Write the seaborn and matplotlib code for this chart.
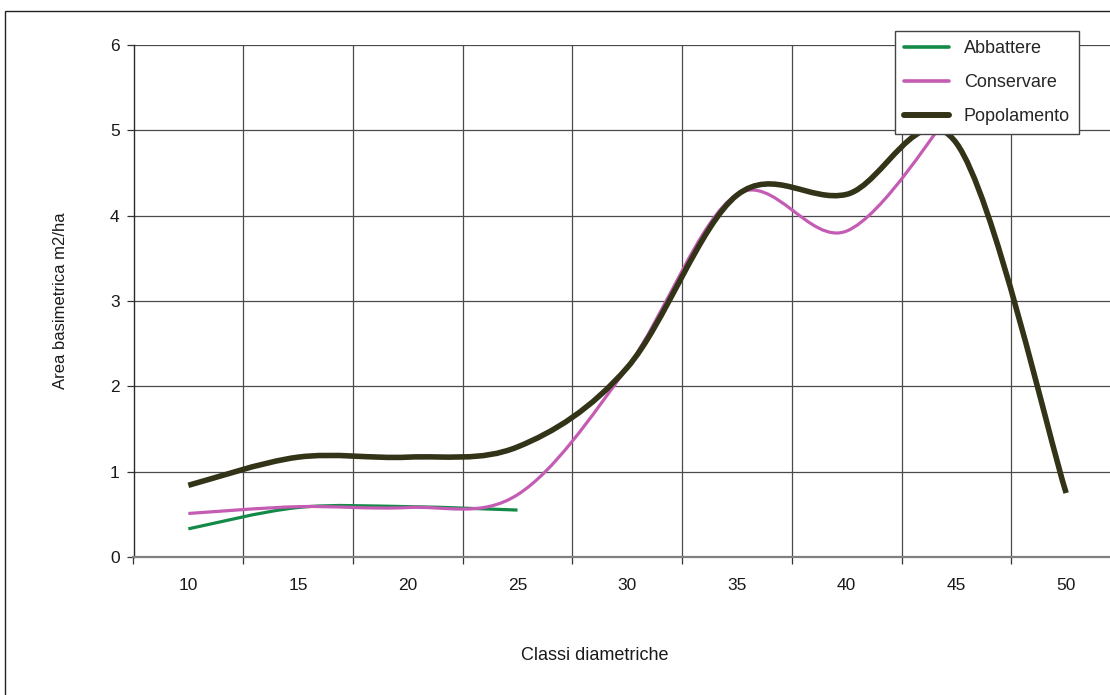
import numpy as np
import pandas as pd
import seaborn as sns
import matplotlib.pyplot as plt
from matplotlib.path import Path
from matplotlib.patches import PathPatch, Rectangle
from matplotlib.lines import Line2D

# dati (area basimetrica per classe diametrica)
classi = [10, 15, 20, 25, 30, 35, 40, 45, 50]
abbattere = [0.33, 0.58, 0.59, 0.55, np.nan, np.nan, np.nan, np.nan, np.nan]
conservare = [0.51, 0.59, 0.58, 0.73, 2.22, 4.25, 3.82, 5.3, np.nan]
popolamento = [0.84, 1.17, 1.17, 1.29, 2.22, 4.24, 4.25, 4.85, 0.75]
y_ticks = [0, 1, 2, 3, 4, 5, 6]

serie = ["Abbattere", "Conservare", "Popolamento"]
colori = ["#138a48", "#c45cb4", "#333318"]
spessori = [2.3, 2.3, 4.0]

df = pd.DataFrame({"classe": classi, "Abbattere": abbattere,
                   "Conservare": conservare, "Popolamento": popolamento})


def smooth_path(xy):
    # curva liscia tipo Excel (Catmull-Rom -> Bezier), passa per i punti
    xy = xy[~np.isnan(xy).any(axis=1)]
    n = len(xy)
    verts = [xy[0]]
    codes = [Path.MOVETO]
    for i in range(n - 1):
        p0 = xy[max(i - 1, 0)]
        p1 = xy[i]
        p2 = xy[i + 1]
        p3 = xy[min(i + 2, n - 1)]
        verts += [p1 + (p2 - p0) / 6, p2 - (p3 - p1) / 6, p2]
        codes += [Path.CURVE4] * 3
    return Path(verts, codes)


sns.set_theme(style="white")
plt.rcParams["font.family"] = ["Liberation Sans", "DejaVu Sans"]

fig = plt.figure(figsize=(11.1, 6.95), dpi=100)
ax = fig.add_axes([133.5 / 1110, 138 / 695, 987.5 / 1110, 512 / 695])

for nome, col, lw in zip(serie, colori, spessori):
    sns.lineplot(data=df, x="classe", y=nome, color=col, linewidth=lw,
                 ax=ax, legend=False)

ax.set_xlim(7.5, 52.5)
ax.set_ylim(0, 6)

handles = [Line2D([], [], color=c, lw=w + 0.3) for c, w in zip(colori, spessori)]
ax.legend(handles, serie, loc="upper right",
          bbox_to_anchor=(1079 / 1110, 1 - 31 / 695), bbox_transform=fig.transFigure,
          frameon=True, fancybox=False, edgecolor="#444444", framealpha=1,
          fontsize=13, handlelength=2.5, handletextpad=0.8,
          labelspacing=0.95, borderaxespad=0, borderpad=0.5)
ax.get_legend().get_frame().set_linewidth(1.0)
ax.get_legend().set_zorder(10)

# sostituisce le spezzate con curve lisce
for line in list(ax.lines):
    patch = PathPatch(smooth_path(line.get_xydata()), fill=False,
                      edgecolor=line.get_color(), lw=line.get_linewidth(),
                      capstyle="butt", joinstyle="round", zorder=2)
    ax.add_patch(patch)
    line.set_visible(False)

ax.set_xticks(classi)
ax.set_xticklabels([str(c) for c in classi])
ax.set_xticks(np.arange(7.5, 53, 5), minor=True)
ax.set_yticks(y_ticks)
ax.tick_params(axis="x", which="major", length=0, pad=15, labelsize=12.5,
               labelcolor="#1a1a1a")
ax.tick_params(axis="x", which="minor", length=5, width=0.9, color="#333333",
               bottom=True, direction="out")
ax.tick_params(axis="y", which="major", length=5, width=0.9, color="#333333",
               left=True, direction="out", pad=5, labelsize=12.5,
               labelcolor="#1a1a1a")

ax.set_axisbelow(True)
ax.grid(False)
ax.grid(True, which="minor", axis="x", color="#4a4a4a", lw=0.9)
ax.grid(True, which="major", axis="y", color="#4a4a4a", lw=0.9)

for s in ["top", "right"]:
    ax.spines[s].set_visible(False)
ax.spines["left"].set_color("#2a2a2a")
ax.spines["left"].set_linewidth(1.0)
ax.spines["bottom"].set_color("#808080")
ax.spines["bottom"].set_linewidth(1.6)

ax.set_xlabel("Classi diametriche", fontsize=13, color="#1a1a1a")
ax.xaxis.set_label_coords(595 / 1110, 1 - 647 / 695, transform=fig.transFigure)
ax.set_ylabel("Area basimetrica m2/ha", fontsize=12, color="#1a1a1a")
ax.yaxis.set_label_coords(68 / 1110, 1 - 301 / 695, transform=fig.transFigure)

# cornice esterna del grafico
fig.add_artist(Rectangle((4.5 / 1110, -0.5), 2, 0.5 + 1 - 10.5 / 695,
                         transform=fig.transFigure, fill=False,
                         edgecolor="#222222", lw=1.0))

fig.savefig("out.png", dpi=100)
